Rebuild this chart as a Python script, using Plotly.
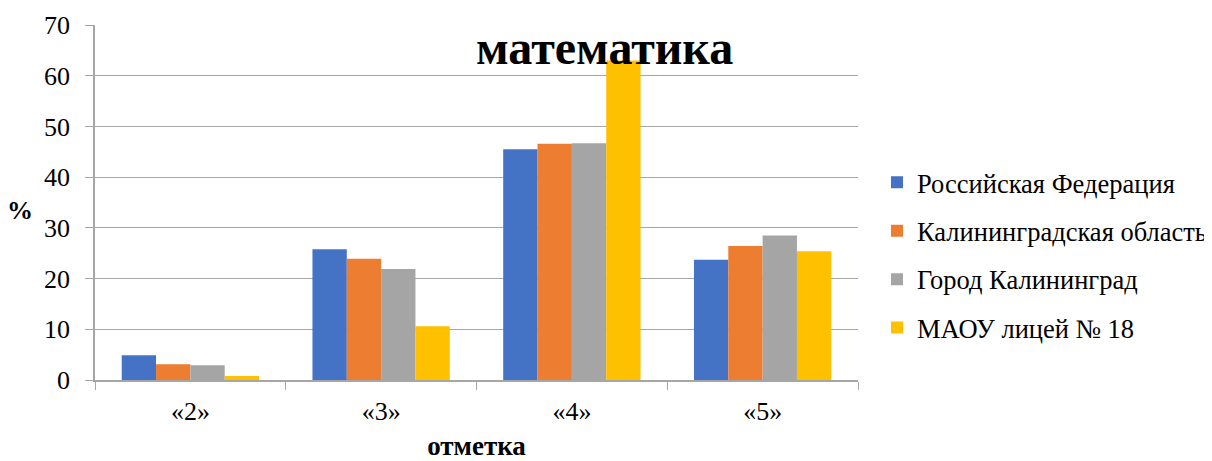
import plotly.graph_objects as go

categories = ["«2»", "«3»", "«4»", "«5»"]
series_names = ["Российская Федерация", "Калининградская область", "Город Калининград", "МАОУ лицей № 18"]
rf = [4.9, 25.8, 45.5, 23.7]
ko = [3.1, 23.9, 46.6, 26.4]
gk = [2.9, 21.9, 46.7, 28.5]
maou = [0.8, 10.6, 63.0, 25.4]
colors = ["#4472c4", "#ed7d31", "#a5a5a5", "#ffc000"]

FF = "Liberation Serif"

# figure is offset by the 8px default body margin of the page
W, H = 1204, 453
L, R, T, B = 87, 354, 17, 81
pw = W - L - R
ph = H - T - B

def px(xw):
    return (xw - 8 - L) / pw

def py(yw):
    return (H - B - (yw - 8)) / ph

fig = go.Figure()
for i, (name, vals, col) in enumerate(zip(series_names, [rf, ko, gk, maou], colors)):
    fig.add_trace(go.Bar(x=categories, y=vals, name=name, legendgroup=f"g{i}",
                         marker=dict(color=col, line=dict(width=0))))

fig.update_layout(
    width=W, height=H,
    margin=dict(l=L, r=R, t=T, b=B, autoexpand=False),
    paper_bgcolor="white", plot_bgcolor="white",
    barmode="group", bargap=0.28, bargroupgap=0,
    font=dict(family=FF, size=26, color="black"),
    showlegend=True,
    legend=dict(x=px(877), y=py(255), xanchor="left", yanchor="middle",
                font=dict(size=26.5, family=FF, color="black"),
                traceorder="grouped", tracegroupgap=11, itemwidth=30,
                bgcolor="rgba(0,0,0,0)"),
    xaxis=dict(showline=True, linecolor="#a6a6a6", linewidth=1.5,
               ticks="outside", tickson="boundaries", ticklen=8, tickcolor="#a6a6a6",
               tickfont=dict(size=26, family=FF, color="black"), showgrid=False,
               ticklabelstandoff=7, automargin=False,
               title=dict(text="<b>отметка</b>", font=dict(size=27, family=FF, color="black"), standoff=14)),
    yaxis=dict(range=[0, 70], dtick=10, showline=True, linecolor="#a6a6a6", linewidth=1.5,
               ticks="outside", ticklen=8, tickcolor="#a6a6a6",
               showgrid=True, gridcolor="#a6a6a6", gridwidth=1,
               ticklabelstandoff=10, automargin=False,
               tickfont=dict(size=26, family=FF, color="black"), zeroline=False),
    annotations=[
        dict(text="<b>математика</b>", x=px(604), y=py(47), xref="paper", yref="paper",
             xanchor="center", yanchor="middle",
             showarrow=False, font=dict(size=48, family=FF, color="black")),
        dict(text="<b>%</b>", x=px(20), y=py(210), xref="paper", yref="paper",
             xanchor="center", yanchor="middle",
             showarrow=False, font=dict(size=26, family=FF, color="black")),
    ],
)

fig.write_html("out.html")
